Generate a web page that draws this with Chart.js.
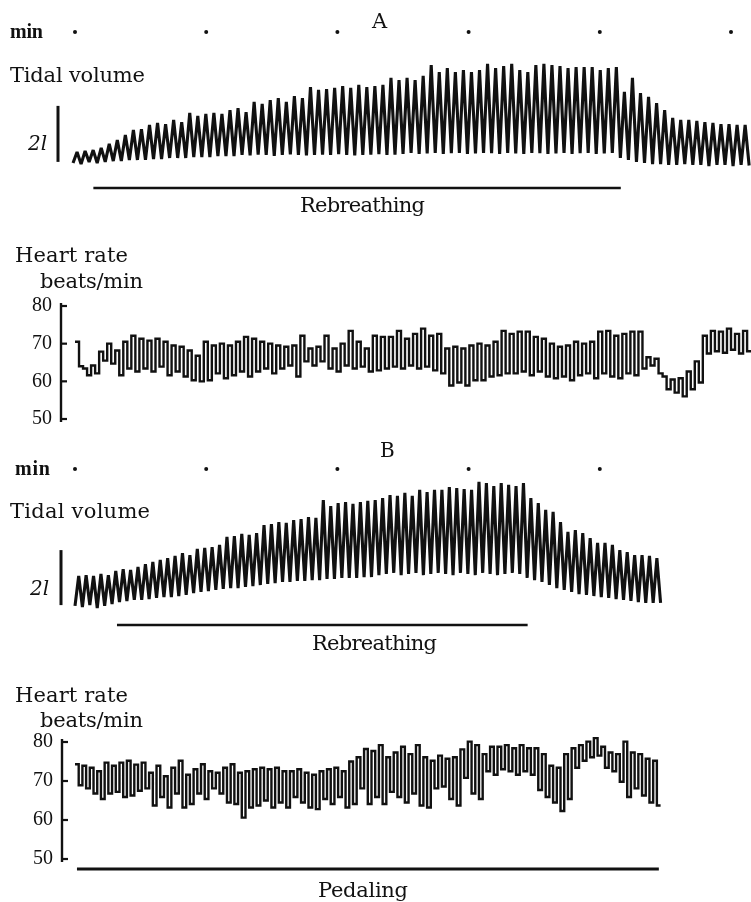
<!DOCTYPE html>
<html>
<head>
<meta charset="utf-8">
<script src="https://cdn.jsdelivr.net/npm/chart.js@4.4.0/dist/chart.umd.min.js"></script>
<style>
  html, body { margin: 0; padding: 0; background: #fff; }
  #page { position: relative; width: 751px; height: 902px; overflow: hidden; background: #fff; }
  #page canvas { position: absolute; left: 0; }
  .lbl { position: absolute; white-space: nowrap; line-height: 1; color: #111;
         font-family: "DejaVu Serif", "Liberation Serif", serif; }
</style>
</head>
<body>
<div id="page">
  <canvas id="tvA" width="751" height="215" style="top:0px;width:751px;height:215px"></canvas>
  <canvas id="hrA" width="751" height="220" style="top:220px;width:751px;height:220px"></canvas>
  <canvas id="tvB" width="751" height="220" style="top:440px;width:751px;height:220px"></canvas>
  <canvas id="hrB" width="751" height="242" style="top:660px;width:751px;height:242px"></canvas>
</div>
<script>
// ---------- recordings ----------
// minute marks (min)
const minuteMarksA = [0, 1, 2, 3, 4, 5];
const minuteMarksB = [0, 1, 2, 3, 4];

// breathing rate (breaths/min) and start of each trace (min)
const breathRateA = 16.3;
const breathRateB = 17.7;
const traceStartA = -0.015;
const traceStartB = 0;

// experimental periods (min)
const rebreathingA = [0.14, 4.16];
const rebreathingB = [0.32, 3.45];
const pedalingB = [0.015, 4.45];

// calibration bar (l)
const calibLitres = 2;
const calibBaseA = 0.29;
const calibBaseB = 0.36;

// tidal volume, panel A: end-expiratory troughs and end-inspiratory peaks (l)
const troughsA = [0.25,0.21,0.29,0.25,0.29,0.32,0.32,0.36,0.36,
  0.36,0.39,0.39,0.43,0.43,0.43,0.46,0.46,0.46,0.50,0.50,0.50,
  0.54,0.52,0.55,0.54,0.50,0.54,0.56,0.54,0.52,0.54,0.55,0.54,0.57,0.54,0.52,0.54,0.55,0.57,0.54,0.55,
  0.57,0.61,0.57,0.59,0.61,0.57,0.60,0.61,0.57,0.59,0.61,0.60,0.57,0.61,0.59,0.57,0.61,0.60,0.57,0.59,0.61,0.57,0.60,0.61,0.57,0.59,0.61,
  0.43,0.36,0.29,0.25,0.21,0.21,0.18,0.18,0.21,0.18,0.18,0.14,0.18,0.18,0.14,0.18,0.16];
const peaksA = [0.64,0.68,0.71,0.79,0.93,1.07,1.25,1.43,1.46,1.61,
  1.68,1.64,1.79,1.71,2.04,1.93,2.00,2.04,2.00,2.14,
  2.21,2.07,2.43,2.36,2.50,2.57,2.43,2.64,2.57,2.96,
  2.86,2.89,2.93,3.00,2.93,3.04,2.96,3.00,3.04,3.29,
  3.21,3.29,3.21,3.36,3.75,3.50,3.64,3.50,3.57,3.50,
  3.57,3.79,3.64,3.71,3.79,3.57,3.50,3.75,3.79,3.75,
  3.71,3.64,3.68,3.68,3.68,3.57,3.64,3.68,2.79,3.29,
  2.75,2.61,2.39,2.14,1.86,1.79,1.79,1.75,1.71,1.68,
  1.64,1.64,1.61,1.61];

// tidal volume, panel B (l)
const troughsB = [0.33,0.29,0.36,0.25,0.33,0.40,0.47,0.51,
  0.55,0.55,0.58,0.62,0.65,0.65,0.69,0.73,
  0.80,0.84,0.87,0.91,0.95,0.98,0.98,1.02,1.05,1.09,
  1.13,1.16,1.20,1.20,1.24,1.24,1.27,1.27,1.31,1.31,1.35,1.35,1.35,1.38,1.38,
  1.45,1.49,1.53,1.45,1.49,1.53,1.45,1.49,1.53,1.49,1.45,1.53,1.49,1.45,1.53,1.49,1.45,1.49,1.53,1.49,
  1.35,1.27,1.20,1.09,0.98,0.91,0.84,0.76,0.73,0.69,0.65,0.62,0.58,0.55,0.51,0.47,0.44,0.44,0.44];
const peaksB = [1.42,1.45,1.42,1.49,1.45,1.60,1.67,1.64,1.75,1.85,
  1.93,2.00,2.07,2.15,2.25,2.18,2.40,2.44,2.47,2.55,
  2.84,2.87,2.95,2.91,2.98,3.27,3.31,3.38,3.35,3.45,
  3.49,3.56,3.53,4.18,3.96,4.07,4.11,4.04,4.11,4.15,
  4.18,4.25,4.36,4.33,4.44,4.33,4.55,4.47,4.55,4.55,
  4.65,4.62,4.58,4.55,4.84,4.80,4.69,4.80,4.73,4.69,
  4.80,4.25,4.07,3.82,3.75,3.38,3.02,3.09,2.98,2.80,
  2.62,2.62,2.55,2.36,2.29,2.18,2.18,2.15,2.07];

// heart rate, per breath: level in the fast phase and in the slow phase (beats/min)
const hrFastA = [70.5,63.4,64.2,67.9,70.0,68.2,70.5,72.1,71.3,70.8,
  71.3,70.5,69.5,69.2,68.2,66.8,70.5,69.5,70.0,69.5,
  70.5,71.8,71.3,70.5,70.0,69.5,69.2,69.5,72.1,68.7,
  69.2,72.1,68.7,70.0,73.4,70.5,68.7,72.1,71.8,71.8,
  73.4,71.3,72.6,74.0,72.1,72.6,68.7,69.2,68.7,69.5,
  70.0,69.5,70.5,73.4,72.6,73.2,73.2,71.8,71.3,70.0,
  69.2,69.5,70.5,70.0,70.5,73.2,73.4,72.1,72.6,73.2,
  73.2,66.4,66.0,61.3,60.5,60.8,62.6,65.3,72.1,73.4,
  73.2,74.0,72.6,73.4];
const hrSlowA = [64.0,61.6,62.1,65.5,64.7,61.6,63.4,62.6,63.4,62.6,
  63.9,61.6,62.6,61.3,60.3,60.0,60.3,62.1,60.8,61.6,
  62.6,61.3,62.6,63.4,62.1,63.4,64.2,61.3,65.3,64.2,
  65.3,63.4,62.6,64.2,63.4,63.9,62.6,62.9,63.4,63.9,
  63.4,64.2,63.4,63.9,62.9,62.1,58.9,59.7,58.9,60.3,
  60.3,61.3,61.6,62.1,62.1,62.6,61.6,62.6,61.3,60.8,
  61.3,60.3,61.6,62.1,60.8,62.1,61.3,60.8,62.1,61.6,
  63.4,64.2,62.1,57.9,57.0,56.0,57.9,59.7,67.4,68.0,
  67.6,68.4,67.4,68.0];
const hrFastB = [74.3,73.9,73.4,72.5,74.7,73.9,74.7,75.2,74.2,74.7,
  72.1,73.9,71.2,73.4,75.2,71.6,73.0,74.3,72.5,72.1,
  73.4,74.3,72.1,72.5,73.0,73.4,73.0,73.4,72.5,72.5,
  73.0,72.1,71.6,72.5,73.0,73.4,72.5,75.0,76.1,78.2,
  77.7,79.2,76.1,77.3,78.8,76.9,79.2,76.1,75.2,76.5,
  75.7,76.1,78.1,80.1,79.2,76.9,78.8,78.8,79.2,78.4,
  79.2,78.4,78.4,76.9,73.9,73.4,76.9,78.4,79.2,80.1,
  81.0,78.8,77.3,76.9,80.1,77.3,76.9,75.7,75.2];
const hrSlowB = [68.9,68.1,66.8,65.4,66.8,67.2,65.9,66.3,67.5,68.1,
  63.7,65.9,63.2,66.8,63.2,64.1,66.8,65.4,68.1,66.8,
  64.5,64.1,60.6,63.2,63.7,65.0,63.2,64.5,63.2,65.9,
  64.5,63.2,62.8,65.4,64.1,65.9,63.2,64.1,68.1,64.1,
  65.9,64.1,67.2,65.9,64.5,66.8,63.7,63.2,68.1,68.6,
  65.4,63.7,70.8,66.8,65.4,72.5,71.6,73.0,72.5,71.6,
  72.5,71.6,67.7,65.9,64.5,62.3,65.4,73.4,75.2,76.1,
  76.5,73.4,72.5,69.8,65.9,68.1,66.3,64.5,63.7];

// heart-rate axis
const hrMin = 50, hrMax = 80, hrStep = 10;

// ---------- drawing ----------
const INK = '#111';
const PX_PER_MIN = 131.2;   // paper speed
const MIN0_PX = 75;         // page position of the first minute mark
const PAGE_W = 751;

// spirogram: trough then peak for every breath
function spiroPoints(troughs, peaks, rate, start) {
  const pts = [];
  peaks.forEach((p, i) => {
    pts.push({ x: start + i / rate, y: troughs[i] });
    pts.push({ x: start + (i + 0.5) / rate, y: p });
  });
  if (troughs.length > peaks.length) {
    pts.push({ x: start + peaks.length / rate, y: troughs[peaks.length] });
  }
  return pts;
}
// cardiotachogram: each level is held until the next one
function tachoPoints(fast, slow, rate, start) {
  const pts = [];
  fast.forEach((f, i) => {
    pts.push({ x: start + i / rate, y: f });
    pts.push({ x: start + (i + 0.5) / rate, y: slow[i] });
  });
  pts.push({ x: start + fast.length / rate, y: slow[slow.length - 1] });
  return pts;
}

const decor = {
  id: 'decor',
  afterDatasetsDraw(chart, args, o) {
    const ctx = chart.ctx, xs = chart.scales.x, ys = chart.scales.y, area = chart.chartArea;
    ctx.save();
    ctx.fillStyle = INK;
    ctx.strokeStyle = INK;
    ctx.lineCap = 'butt';
    if (o.dots) {
      o.dots.values.forEach(m => {
        ctx.beginPath();
        ctx.arc(xs.getPixelForValue(m), o.dots.y, o.dots.r, 0, Math.PI * 2);
        ctx.fill();
      });
    }
    (o.spans || []).forEach(s => {
      ctx.lineWidth = s.width;
      ctx.beginPath();
      ctx.moveTo(xs.getPixelForValue(s.range[0]), s.y);
      ctx.lineTo(xs.getPixelForValue(s.range[1]), s.y);
      ctx.stroke();
    });
    if (o.calib) {
      const c = o.calib;
      ctx.lineWidth = c.width;
      ctx.beginPath();
      ctx.moveTo(c.x, ys.getPixelForValue(c.base));
      ctx.lineTo(c.x, ys.getPixelForValue(c.base + c.size));
      ctx.stroke();
    }
    if (o.axis) {
      const a = o.axis, x = area.left;
      ctx.lineWidth = a.width;
      ctx.beginPath();
      ctx.moveTo(x, area.top - a.over);
      ctx.lineTo(x, area.bottom + a.over);
      ctx.stroke();
      ctx.lineWidth = a.tickWidth;
      ys.ticks.forEach(t => {
        const y = ys.getPixelForValue(t.value);
        ctx.beginPath();
        ctx.moveTo(x, y);
        ctx.lineTo(x + a.tick, y);
        ctx.stroke();
      });
    }
    ctx.restore();
  }
};

function xScale(areaLeft) {
  return {
    type: 'linear', display: false,
    min: (areaLeft - MIN0_PX) / PX_PER_MIN,
    max: (PAGE_W - MIN0_PX) / PX_PER_MIN
  };
}

function spiroChart(id, pts, pad, decorOpts) {
  return new Chart(document.getElementById(id), {
    type: 'line',
    data: { datasets: [{
      data: pts, borderColor: INK, borderWidth: 3.1, pointRadius: 0,
      tension: 0, clip: false, borderJoinStyle: 'bevel'
    }]},
    options: {
      responsive: false, animation: false, devicePixelRatio: 1,
      layout: { padding: pad },
      plugins: { legend: { display: false }, tooltip: { enabled: false }, decor: decorOpts },
      scales: {
        x: xScale(0),
        y: { type: 'linear', display: false, min: 0, max: 5 }
      }
    },
    plugins: [decor]
  });
}

function tachoChart(id, pts, axisX, pad, decorOpts) {
  return new Chart(document.getElementById(id), {
    type: 'line',
    data: { datasets: [{
      data: pts, borderColor: INK, borderWidth: 2.4, pointRadius: 0,
      stepped: true, clip: false
    }]},
    options: {
      responsive: false, animation: false, devicePixelRatio: 1,
      layout: { padding: pad },
      plugins: { legend: { display: false }, tooltip: { enabled: false }, decor: decorOpts },
      scales: {
        x: xScale(axisX),
        y: {
          type: 'linear', min: hrMin, max: hrMax,
          afterFit(s) { s.width = axisX; },
          grid: { display: false, drawTicks: false },
          border: { display: false },
          ticks: { stepSize: hrStep, padding: 9, color: INK,
                   font: { family: '"Liberation Serif", serif', size: 20 } }
        }
      }
    },
    plugins: [decor]
  });
}

// Panel A
spiroChart('tvA', spiroPoints(troughsA, peaksA, breathRateA, traceStartA),
  { top: 30, bottom: 45, left: 0, right: 0 },
  { dots: { values: minuteMarksA, y: 32, r: 2 },
    spans: [{ range: rebreathingA, y: 188, width: 2.6 }],
    calib: { x: 58, base: calibBaseA, size: calibLitres, width: 3 } });

tachoChart('hrA', tachoPoints(hrFastA, hrSlowA, breathRateA, 0), 61,
  { top: 86, bottom: 18, left: 0, right: 0 },
  { axis: { width: 2.4, over: 3, tick: 6, tickWidth: 2.2 } });

// Panel B
spiroChart('tvB', spiroPoints(troughsB, peaksB, breathRateB, traceStartB),
  { top: 37.5, bottom: 45, left: 0, right: 0 },
  { dots: { values: minuteMarksB, y: 29, r: 2 },
    spans: [{ range: rebreathingB, y: 185, width: 2.6 }],
    calib: { x: 61, base: calibBaseB, size: calibLitres, width: 3 } });

tachoChart('hrB', tachoPoints(hrFastB, hrSlowB, breathRateB, traceStartB), 62,
  { top: 82, bottom: 43, left: 0, right: 0 },
  { axis: { width: 2.4, over: 3, tick: 6, tickWidth: 2.2 },
    spans: [{ range: pedalingB, y: 209, width: 3 }] });

// ---------- text ----------
const page = document.getElementById('page');
function label(text, x, baseline, size, width, extra) {
  const d = document.createElement('div');
  d.className = 'lbl';
  d.textContent = text;
  d.style.fontSize = size + 'px';
  d.style.left = x + 'px';
  Object.assign(d.style, extra || {});
  page.appendChild(d);
  // place the baseline: measure where it falls inside the box
  const probe = document.createElement('span');
  probe.style.cssText = 'display:inline-block;width:0;height:0;vertical-align:baseline';
  d.appendChild(probe);
  const off = probe.getBoundingClientRect().top - d.getBoundingClientRect().top;
  d.removeChild(probe);
  d.style.top = (baseline - off) + 'px';
  if (width && text.length > 1) {
    const w = d.getBoundingClientRect().width;
    d.style.letterSpacing = ((width - w) / (text.length - 1)) + 'px';
  }
}
const bold = { fontWeight: 'bold', fontFamily: '"Liberation Serif", serif' };
label('min', 10, 38, 20, 33, bold);
label('A', 372, 28, 21);
label('Tidal volume', 10, 82, 21, 135);
label('2l', 28, 150, 20, 0, { fontStyle: 'italic' });
label('Rebreathing', 300, 212, 21, 125);
label('Heart rate', 15, 262, 21, 113);
label('beats/min', 40, 288, 21, 103);

label('min', 15, 475, 20, 35, bold);
label('B', 380, 457, 20);
label('Tidal volume', 10, 518, 21, 140);
label('2l', 30, 595, 20, 0, { fontStyle: 'italic' });
label('Rebreathing', 312, 650, 21, 125);
label('Heart rate', 15, 702, 21, 113);
label('beats/min', 40, 727, 21, 103);
label('Pedaling', 318, 897, 21, 90);
</script>
</body>
</html>
